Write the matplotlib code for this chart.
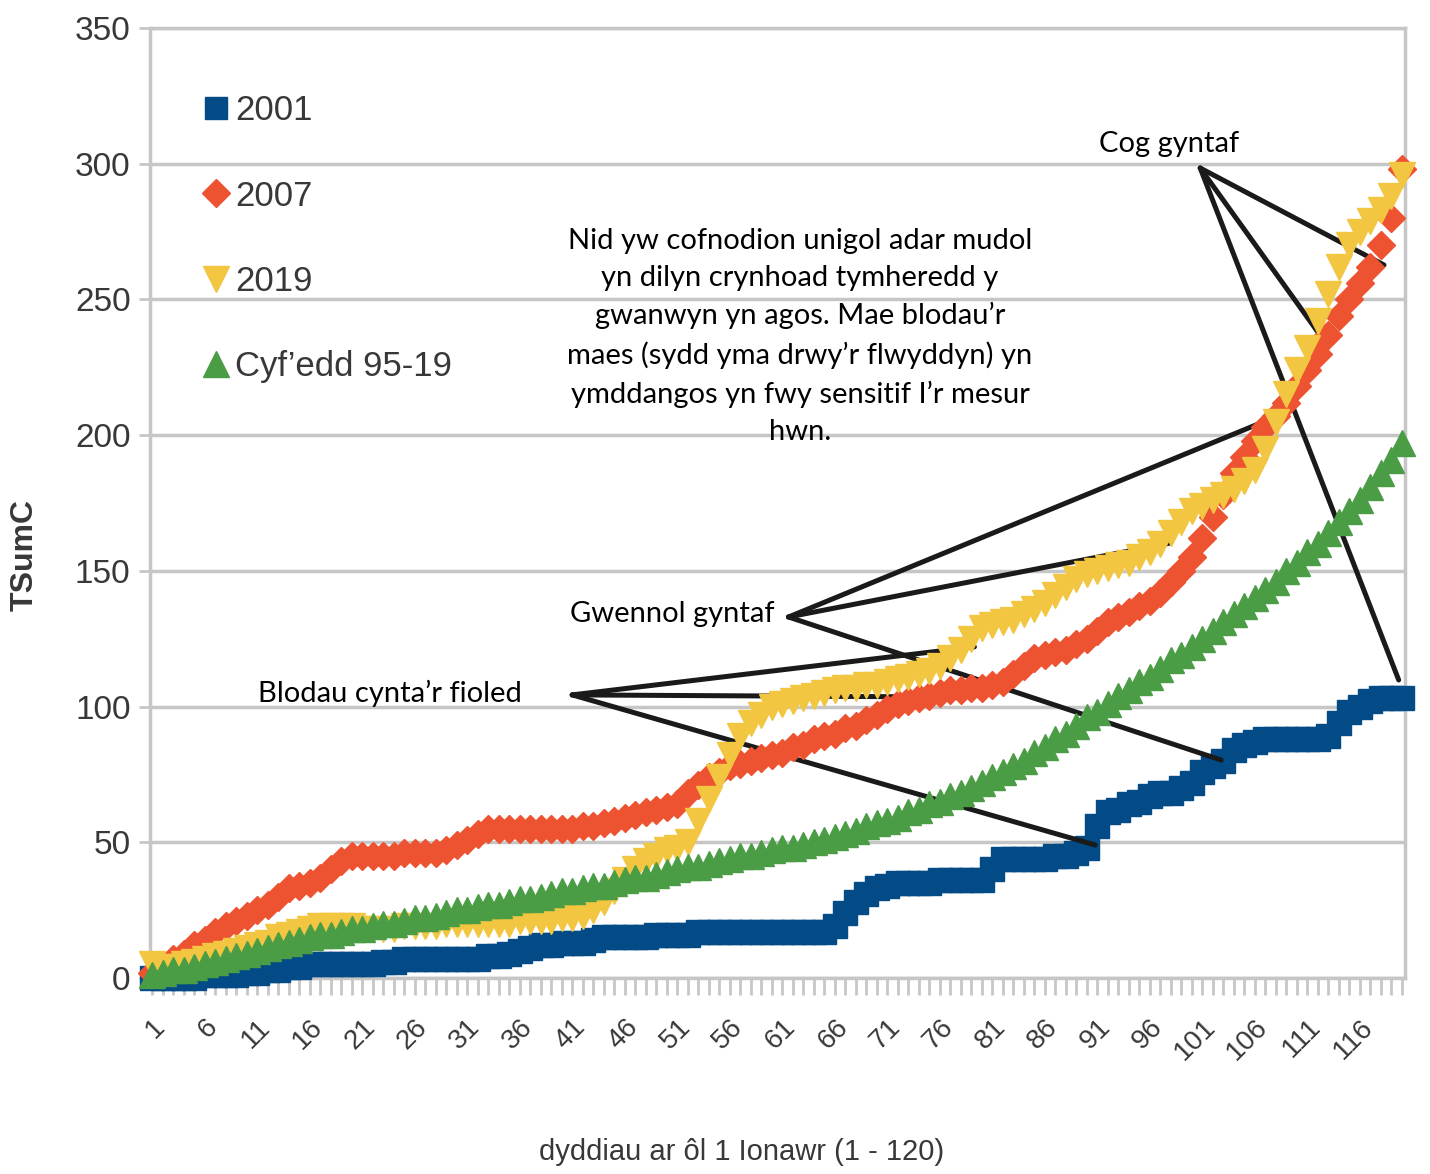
import numpy as np
import matplotlib.pyplot as plt
from matplotlib.ticker import FixedLocator

# days after 1 January
days = np.arange(1, 121)

tsum_2001 = [0, 0, 0, 0, 0, 1, 1, 1, 1, 2,
             2, 3, 3, 4, 4, 5, 5, 5, 5, 5,
             5, 5, 6, 6, 7, 7, 7, 7, 7, 7,
             7, 7, 8, 8, 9, 10, 11, 12, 12, 13,
             13, 13, 14, 15, 15, 15, 15, 15, 16, 16,
             16, 16, 17, 17, 17, 17, 17, 17, 17, 17,
             17, 17, 17, 17, 17, 19, 24, 28, 31, 33,
             34, 35, 35, 35, 35, 36, 36, 36, 36, 36,
             40, 44, 44, 44, 44, 44, 45, 45, 46, 48,
             56, 61, 62, 64, 65, 67, 68, 68, 70, 72,
             76, 78, 80, 84, 86, 87, 88, 88, 88, 88,
             88, 88, 89, 94, 98, 100, 102, 103, 103, 103]

tsum_2007 = [2, 4, 7, 9, 12, 14, 17, 19, 21, 23,
             25, 27, 30, 33, 34, 35, 37, 40, 43, 45,
             45, 45, 45, 45, 46, 46, 46, 46, 47, 49,
             51, 53, 55, 55, 55, 55, 55, 55, 55, 55,
             55, 56, 56, 57, 58, 59, 60, 61, 62, 63,
             64, 68, 71, 74, 76, 78, 79, 80, 81, 82,
             83, 85, 86, 88, 89, 90, 92, 93, 95, 97,
             99, 101, 102, 103, 104, 105, 106, 106, 107, 107,
             108, 109, 112, 115, 118, 119, 120, 121, 123, 125,
             128, 131, 133, 135, 137, 139, 142, 146, 150, 155,
             162, 170, 178, 186, 192, 198, 203, 207, 212, 218,
             224, 230, 237, 244, 250, 256, 262, 270, 280, 298]

tsum_2019 = [5, 4, 4, 5, 6, 7, 8, 9, 10, 11,
             12, 13, 15, 16, 17, 18, 19, 19, 19, 19,
             18, 18, 18, 18, 19, 19, 19, 19, 20, 20,
             20, 20, 20, 20, 20, 21, 21, 21, 21, 22,
             22, 23, 25, 28, 32, 36, 40, 43, 45, 47,
             48, 50, 58, 66, 74, 82, 89, 94, 97, 100,
             101, 102, 103, 104, 105, 106, 107, 107, 108, 108,
             109, 110, 111, 112, 113, 115, 118, 121, 125, 129,
             130, 131, 132, 134, 136, 138, 141, 144, 147, 149,
             150, 151, 152, 153, 155, 157, 160, 164, 168, 172,
             174, 176, 178, 180, 183, 187, 195, 205, 215, 224,
             232, 242, 252, 262, 270, 275, 279, 283, 288, 296]

tsum_avg = [1, 2, 3, 3, 4, 5, 6, 7, 8, 9,
            10, 11, 12, 13, 14, 15, 16, 16, 17, 18,
            18, 19, 20, 20, 21, 22, 22, 23, 24, 25,
            25, 26, 27, 27, 28, 29, 29, 30, 31, 32,
            32, 33, 34, 34, 35, 36, 37, 37, 38, 39,
            40, 41, 41, 42, 43, 44, 45, 45, 46, 47,
            48, 48, 49, 50, 51, 52, 53, 54, 56, 57,
            58, 59, 61, 62, 64, 65, 67, 68, 70, 72,
            74, 76, 78, 80, 83, 85, 88, 90, 93, 96,
            98, 101, 104, 106, 109, 111, 114, 117, 119, 122,
            125, 128, 131, 134, 137, 140, 143, 146, 150, 153,
            157, 160, 164, 168, 172, 176, 181, 186, 191, 197]

series_labels = ['2001', '2007', '2019', 'Cyf’edd 95-19']
x_tick_days = list(range(1, 117, 5))
y_ticks = [0, 50, 100, 150, 200, 250, 300, 350]

para = ("Nid yw cofnodion unigol adar mudol\n"
        "yn dilyn crynhoad tymheredd y\n"
        "gwanwyn yn agos. Mae blodau’r\n"
        "maes (sydd yma drwy’r flwyddyn) yn\n"
        "ymddangos yn fwy sensitif I’r mesur\n"
        "hwn.")

axis_font = ['Liberation Sans', 'DejaVu Sans']
note_font = ['Lato', 'DejaVu Sans']
grey = '#c6c6c6'
txt = '#383838'

fig = plt.figure(figsize=(14.3, 11.74), dpi=100)
ax = fig.add_axes([150 / 1430, 1 - 978 / 1174, 1255 / 1430, 950 / 1174])

ax.plot(days, tsum_2001, ls='none', marker='s', ms=17, color='#024b86',
        mec='#024b86', label=series_labels[0], clip_on=False, zorder=3)
ax.plot(days, tsum_2007, ls='none', marker='D', ms=14.5, color='#ee5331',
        mec='#ee5331', label=series_labels[1], clip_on=False, zorder=4)
ax.plot(days, tsum_2019, ls='none', marker='v', ms=19, color='#f2c641',
        mec='#f2c641', label=series_labels[2], clip_on=False, zorder=5)
ax.plot(days, tsum_avg, ls='none', marker='^', ms=19, color='#4b9d45',
        mec='#4b9d45', label=series_labels[3], clip_on=False, zorder=6)

ax.set_xlim(0.8, 120.3)
ax.set_ylim(0, 350)
ax.set_yticks(y_ticks)
ax.set_yticklabels([str(v) for v in y_ticks], fontsize=24, color=txt,
                   family=axis_font)
ax.xaxis.set_major_locator(FixedLocator(x_tick_days))
ax.xaxis.set_minor_locator(FixedLocator(list(days)))
ax.set_xticklabels([str(d) for d in x_tick_days], rotation=45, ha='right',
                   va='top', rotation_mode='anchor', fontsize=20, color=txt,
                   family=axis_font)
ax.tick_params(axis='x', which='both', length=12, width=2, color=grey,
               direction='out', pad=14)
ax.tick_params(axis='y', length=8, width=2, color=grey, pad=6)

ax.yaxis.grid(True, color=grey, lw=2.5, zorder=0)
ax.set_axisbelow(True)
for s in ax.spines.values():
    s.set_color(grey)
    s.set_linewidth(2.5)

leg = ax.legend(loc='upper left', bbox_to_anchor=(0.043, 0.93),
                frameon=False, prop={'family': axis_font, 'size': 25},
                handlelength=0.7, handletextpad=0.2, labelspacing=1.5,
                borderaxespad=0, borderpad=0, markerscale=0.95)
for t in leg.get_texts():
    t.set_color(txt)

fig.text(742 / 1430, 1 - 1152 / 1174, 'dyddiau ar ôl 1 Ionawr (1 - 120)',
         ha='center', va='center', fontsize=21, color=txt, family=axis_font)
fig.text(25 / 1430, 1 - 555 / 1174, 'TSumC', rotation=90, ha='center',
         va='center', fontsize=23, color=txt, family=axis_font,
         weight='bold')

# annotations
line_kw = dict(arrowstyle='-', color='#1a1a1a', lw=3.6, shrinkA=0, shrinkB=0)

ax.text(97.8, 307.3, 'Cog gyntaf', ha='center', va='center', fontsize=21,
        family=note_font, color='black')
for tx, ty in [(118.3, 262.7), (112.0, 238.0), (119.7, 109.8)]:
    ax.annotate('', xy=(tx, ty), xytext=(100.8, 298.4),
                arrowprops=line_kw, annotation_clip=False)

ax.text(62.7, 236.5, para, ha='center', va='center', fontsize=21,
        family=note_font, color='black', linespacing=1.52,
        multialignment='center')

ax.text(50.5, 134.1, 'Gwennol gyntaf', ha='center', va='center',
        fontsize=21, family=note_font, color='black')
for tx, ty in [(108.4, 207.4), (98.0, 160.3), (102.8, 80.3)]:
    ax.annotate('', xy=(tx, ty), xytext=(61.6, 133.0),
                arrowprops=line_kw, annotation_clip=False)

ax.text(23.6, 105.0, 'Blodau cynta’r fioled', ha='center', va='center',
        fontsize=21, family=note_font, color='black')
for tx, ty in [(79.3, 122.0), (78.2, 103.5), (90.8, 49.0)]:
    ax.annotate('', xy=(tx, ty), xytext=(41.0, 104.3),
                arrowprops=line_kw, annotation_clip=False)

fig.savefig('out.png', dpi=100)
